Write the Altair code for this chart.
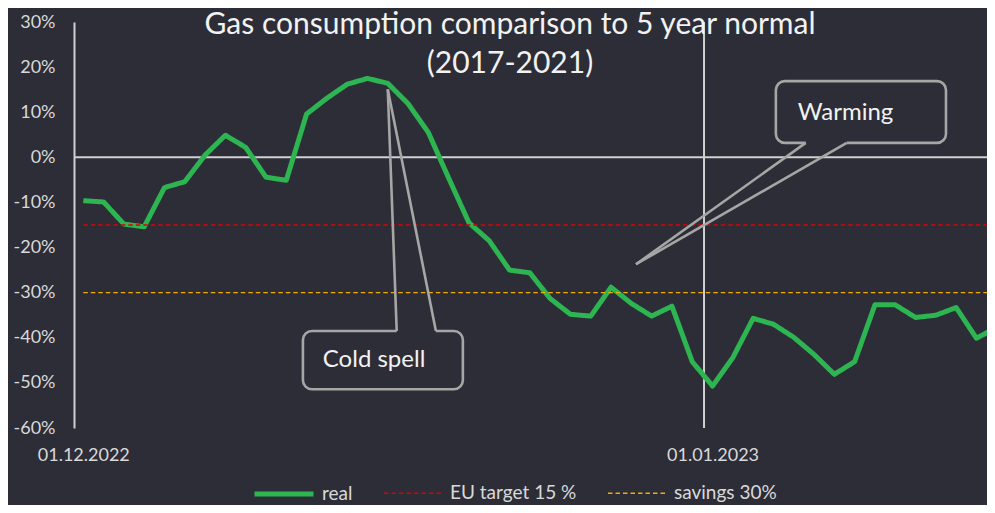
import altair as alt
import pandas as pd

# ---------------- data ----------------
start = pd.Timestamp("2022-12-01")
real = [-9.6, -9.9, -14.8, -15.4, -6.7, -5.4, 0.5, 4.9, 2.2, -4.4,
        -5.1, 9.6, 13.1, 16.2, 17.5, 16.4, 11.9, 5.5, -4.6, -14.5,
        -18.5, -25.0, -25.6, -31.3, -34.8, -35.2, -28.8, -32.4, -35.2, -33.0,
        -45.3, -50.7, -44.4, -35.7, -37.0, -39.9, -43.7, -48.1, -45.3, -32.7,
        -32.7, -35.5, -35.0, -33.3, -40.1, -37.7]
eu_target = -15.0
savings = -30.0
series_names = ["real", "EU target 15 %", "savings 30%"]
series_colors = ["#2db552", "#dc0000", "#f2ac00"]
series_widths = [5, 1.4, 1.4]
series_dash = [[1, 0], [4.5, 3], [4.5, 3]]

title_lines = ["Gas consumption comparison to 5 year normal", "(2017-2021)"]
y_ticks = [-60, -50, -40, -30, -20, -10, 0, 10, 20, 30]
divider_day = 30.58  # day offset of the vertical divider

# callouts, in data coordinates (day offset from start, percent)
callout_names = ["Cold spell", "Warming"]
box_x0 = [10.82, 34.12]
box_x1 = [18.70, 42.50]
box_top = [-38.5, 16.9]
box_bottom = [-51.4, 3.2]
text_x = [11.8, 35.2]
text_y = [-44.9, 9.8]
tip_x = [15.0, 27.23]
tip_y = [15.1, -23.7]
base_x0 = [15.44, 35.59]
base_x1 = [17.37, 37.61]
base_y = [-38.5, 3.2]

BG = "#2d2d37"
GRAY = "#a6a6a6"
LIGHT = "#d0d0d0"
FONT = "Lato"


def day(d):
    return start + pd.to_timedelta(d, unit="D")


dates = [day(i) for i in range(len(real))]
rows = []
for d, v in zip(dates, real):
    rows.append({"date": d, "value": v, "series": "real"})
for d in dates:
    rows.append({"date": d, "value": eu_target, "series": "EU target 15 %"})
for d in dates:
    rows.append({"date": d, "value": savings, "series": "savings 30%"})
df = pd.DataFrame(rows)

boxes = pd.DataFrame({
    "name": callout_names,
    "x0": [day(v) for v in box_x0], "x1": [day(v) for v in box_x1],
    "y0": box_top, "y1": box_bottom,
    "tx": [day(v) for v in text_x], "ty": text_y,
})
edges = pd.DataFrame({
    "xa": [day(v) for v in tip_x] * 2,
    "ya": tip_y * 2,
    "xb": [day(v) for v in base_x0] + [day(v) for v in base_x1],
    "yb": base_y * 2,
})
gaps = pd.DataFrame({
    "xa": [day(v) for v in base_x0], "xb": [day(v) for v in base_x1], "y": base_y,
})

# ---------------- scales / axes ----------------
xscale = alt.Scale(domain=[alt.DateTime(year=2022, month=11, date=30, hours=13, minutes=0),
                           alt.DateTime(year=2023, month=1, date=14, hours=12, minutes=30)])
yscale = alt.Scale(domain=[-60, 30], nice=False, zero=False)
xaxis = alt.Axis(title=None, values=[alt.DateTime(year=2022, month=12, date=1),
                                     alt.DateTime(year=2023, month=1, date=1)],
                 format="%d.%m.%Y", domain=False, ticks=False, grid=False,
                 labelFlush=False, labelOverlap=False, labelPadding=18)
yaxis = alt.Axis(title=None, values=y_ticks, labelExpr="datum.value + '%'",
                 domain=True, domainColor=LIGHT, domainWidth=2, ticks=False,
                 grid=False, labelPadding=19)

X = lambda f: alt.X(f, scale=xscale, axis=xaxis)
Y = lambda f: alt.Y(f, scale=yscale, axis=yaxis)

zero = alt.Chart(pd.DataFrame({"v": [0]})).mark_rule(color=LIGHT, strokeWidth=2).encode(y=Y("v:Q"))
divider = alt.Chart(pd.DataFrame({"d": [day(divider_day)]})).mark_rule(
    color=LIGHT, strokeWidth=2).encode(x=X("d:T"))

legend = alt.Legend(title=None, orient="none", legendX=178, legendY=440,
                    direction="horizontal", symbolType="stroke", symbolSize=3481,
                    labelFontSize=19, labelFont=FONT, labelColor="#d9d9d9",
                    columnPadding=28, labelOffset=6, padding=0)

lines = alt.Chart(df).mark_line(strokeJoin="round", clip=True).encode(
    x=X("date:T"),
    y=Y("value:Q"),
    color=alt.Color("series:N", scale=alt.Scale(domain=series_names, range=series_colors),
                    legend=legend, sort=series_names),
    strokeDash=alt.StrokeDash("series:N", scale=alt.Scale(domain=series_names, range=series_dash),
                              legend=legend, sort=series_names),
    strokeWidth=alt.StrokeWidth("series:N", scale=alt.Scale(type="ordinal", domain=series_names,
                                                            range=series_widths),
                                legend=legend, sort=series_names),
)

box_marks = alt.Chart(boxes).mark_rect(cornerRadius=9, fill=BG, stroke=GRAY, strokeWidth=2.6).encode(
    x=X("x0:T"), x2="x1:T", y=Y("y0:Q"), y2="y1:Q")
gap_marks = alt.Chart(gaps).mark_rule(color=BG, strokeWidth=4).encode(
    x=X("xa:T"), x2="xb:T", y=Y("y:Q"))
edge_marks = alt.Chart(edges).mark_rule(color=GRAY, strokeWidth=2.6).encode(
    x=X("xa:T"), y=Y("ya:Q"), x2="xb:T", y2="yb:Q")
text_marks = alt.Chart(boxes).mark_text(align="left", baseline="middle", font=FONT,
                                         fontSize=24, color="#f2f2f2").encode(
    x=X("tx:T"), y=Y("ty:Q"), text="name:N")

title = alt.Chart(pd.DataFrame({"t": [0]})).mark_text(
    text=title_lines, align="center", baseline="alphabetic", font=FONT, fontSize=30,
    lineHeight=39, color="#f2f2f2").encode(x=alt.value(436), y=alt.value(12))

chart = alt.layer(zero, divider, lines, box_marks, gap_marks, edge_marks, text_marks, title).properties(
    width=913, height=406,
    autosize=alt.AutoSizeParams(type="none"),
    padding={"left": 66, "top": 14, "right": 0, "bottom": 77},
    background=BG,
).configure_view(stroke=None).configure_axis(
    labelFont=FONT, labelFontSize=18, labelColor="#d9d9d9"
)

chart.save("out.html", embed_options={"renderer": "svg", "actions": False})
